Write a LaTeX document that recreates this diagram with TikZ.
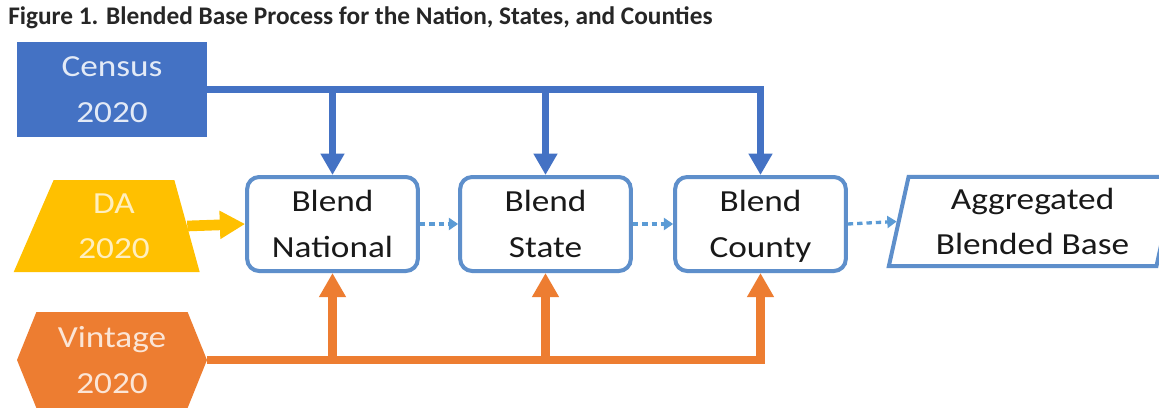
\documentclass[tikz,border=0pt]{standalone}
\usepackage{fontspec}
\setmainfont{Carlito}
\newfontfamily\flowfont[FakeStretch=1.15]{Carlito}
\usetikzlibrary{arrows.meta,shapes.geometric,shapes.symbols}

\definecolor{censusblue}{HTML}{4472C4}
\definecolor{boxblue}{HTML}{5E8FCB}
\definecolor{dotblue}{HTML}{5B9BD5}
\definecolor{dayellow}{HTML}{FFC000}
\definecolor{vintorange}{HTML}{ED7D31}

\tikzset{
  flowtext/.style={align=center, inner sep=0pt, text depth=0pt, font=\flowfont\fontsize{23}{34}\selectfont},
  blendbox/.style={flowtext, draw=boxblue, line width=3pt, rounded corners=9pt, fill=white,
    text=black!90, minimum width=128pt, minimum height=70.5pt},
  bluefeed/.style={censusblue, line width=5pt, -{Triangle[width=17pt,length=16pt]}},
  orangefeed/.style={vintorange, line width=6.5pt, -{Triangle[width=19pt,length=18pt]}},
  dotfeed/.style={dotblue, line width=2.5pt, dash pattern=on 4pt off 3pt,
    -{Triangle[width=9pt,length=7pt]}}
}

\begin{document}
\begin{tikzpicture}[x=0.75pt,y=-0.75pt]
  \fill[white] (0,0) rectangle (1159,407);
  \useasboundingbox (0,0) rectangle (1159,407);

  \node[anchor=west, font=\bfseries\fontsize{19}{21}\selectfont, text=black!85, inner sep=0pt]
    (title) at (8,18) {Figure 1. Blended Base Process for the Nation, States, and Counties};

  % inputs
  \node[flowtext, fill=censusblue, text=censusblue!15, minimum width=142.5pt, minimum height=71pt]
    (census) at (112,89.5) {Census\\2020};
  \node[flowtext, trapezium, trapezium left angle=70, trapezium right angle=77, trapezium stretches=true,
    fill=dayellow, text=dayellow!25, minimum width=139.5pt, minimum height=69pt]
    (da) at (114,226) {DA\\2020};
  \node[flowtext, signal, signal to=west and east, signal pointer angle=136,
    fill=vintorange, text=vintorange!20, minimum width=142.5pt, minimum height=72pt]
    (vintage) at (112,360) {Vintage\\2020};

  % blending steps
  \node[blendbox] (national) at (332.5,224) {Blend\\National};
  \node[blendbox] (state) at (545.5,224) {Blend\\State};
  \node[blendbox] (county) at (760.5,224) {Blend\\County};
  \node[flowtext, trapezium, trapezium left angle=77, trapezium right angle=103, trapezium stretches=true,
    draw=boxblue, line width=3pt, fill=white, text=black!90, minimum width=216pt, minimum height=67pt]
    (aggregate) at (1032.5,221.5) {Aggregated\\Blended Base};

  % census feeds
  \draw[bluefeed] (census.east) -| (national.north);
  \draw[bluefeed] (census.east) -| (state.north);
  \draw[bluefeed] (census.east) -| (county.north);

  % vintage feeds
  \draw[orangefeed] (vintage.east) -| (national.south);
  \draw[orangefeed] (vintage.east) -| (state.south);
  \draw[orangefeed] (vintage.east) -| (county.south);

  \draw[dayellow, line width=8pt, -{Triangle[width=20pt,length=19pt]}] (da.east) -- (national.west);

  \draw[dotfeed] (national.east) -- (state.west);
  \draw[dotfeed] (state.east) -- (county.west);
  \draw[dotfeed] (county.east) -- (aggregate.west);
\end{tikzpicture}
\end{document}
